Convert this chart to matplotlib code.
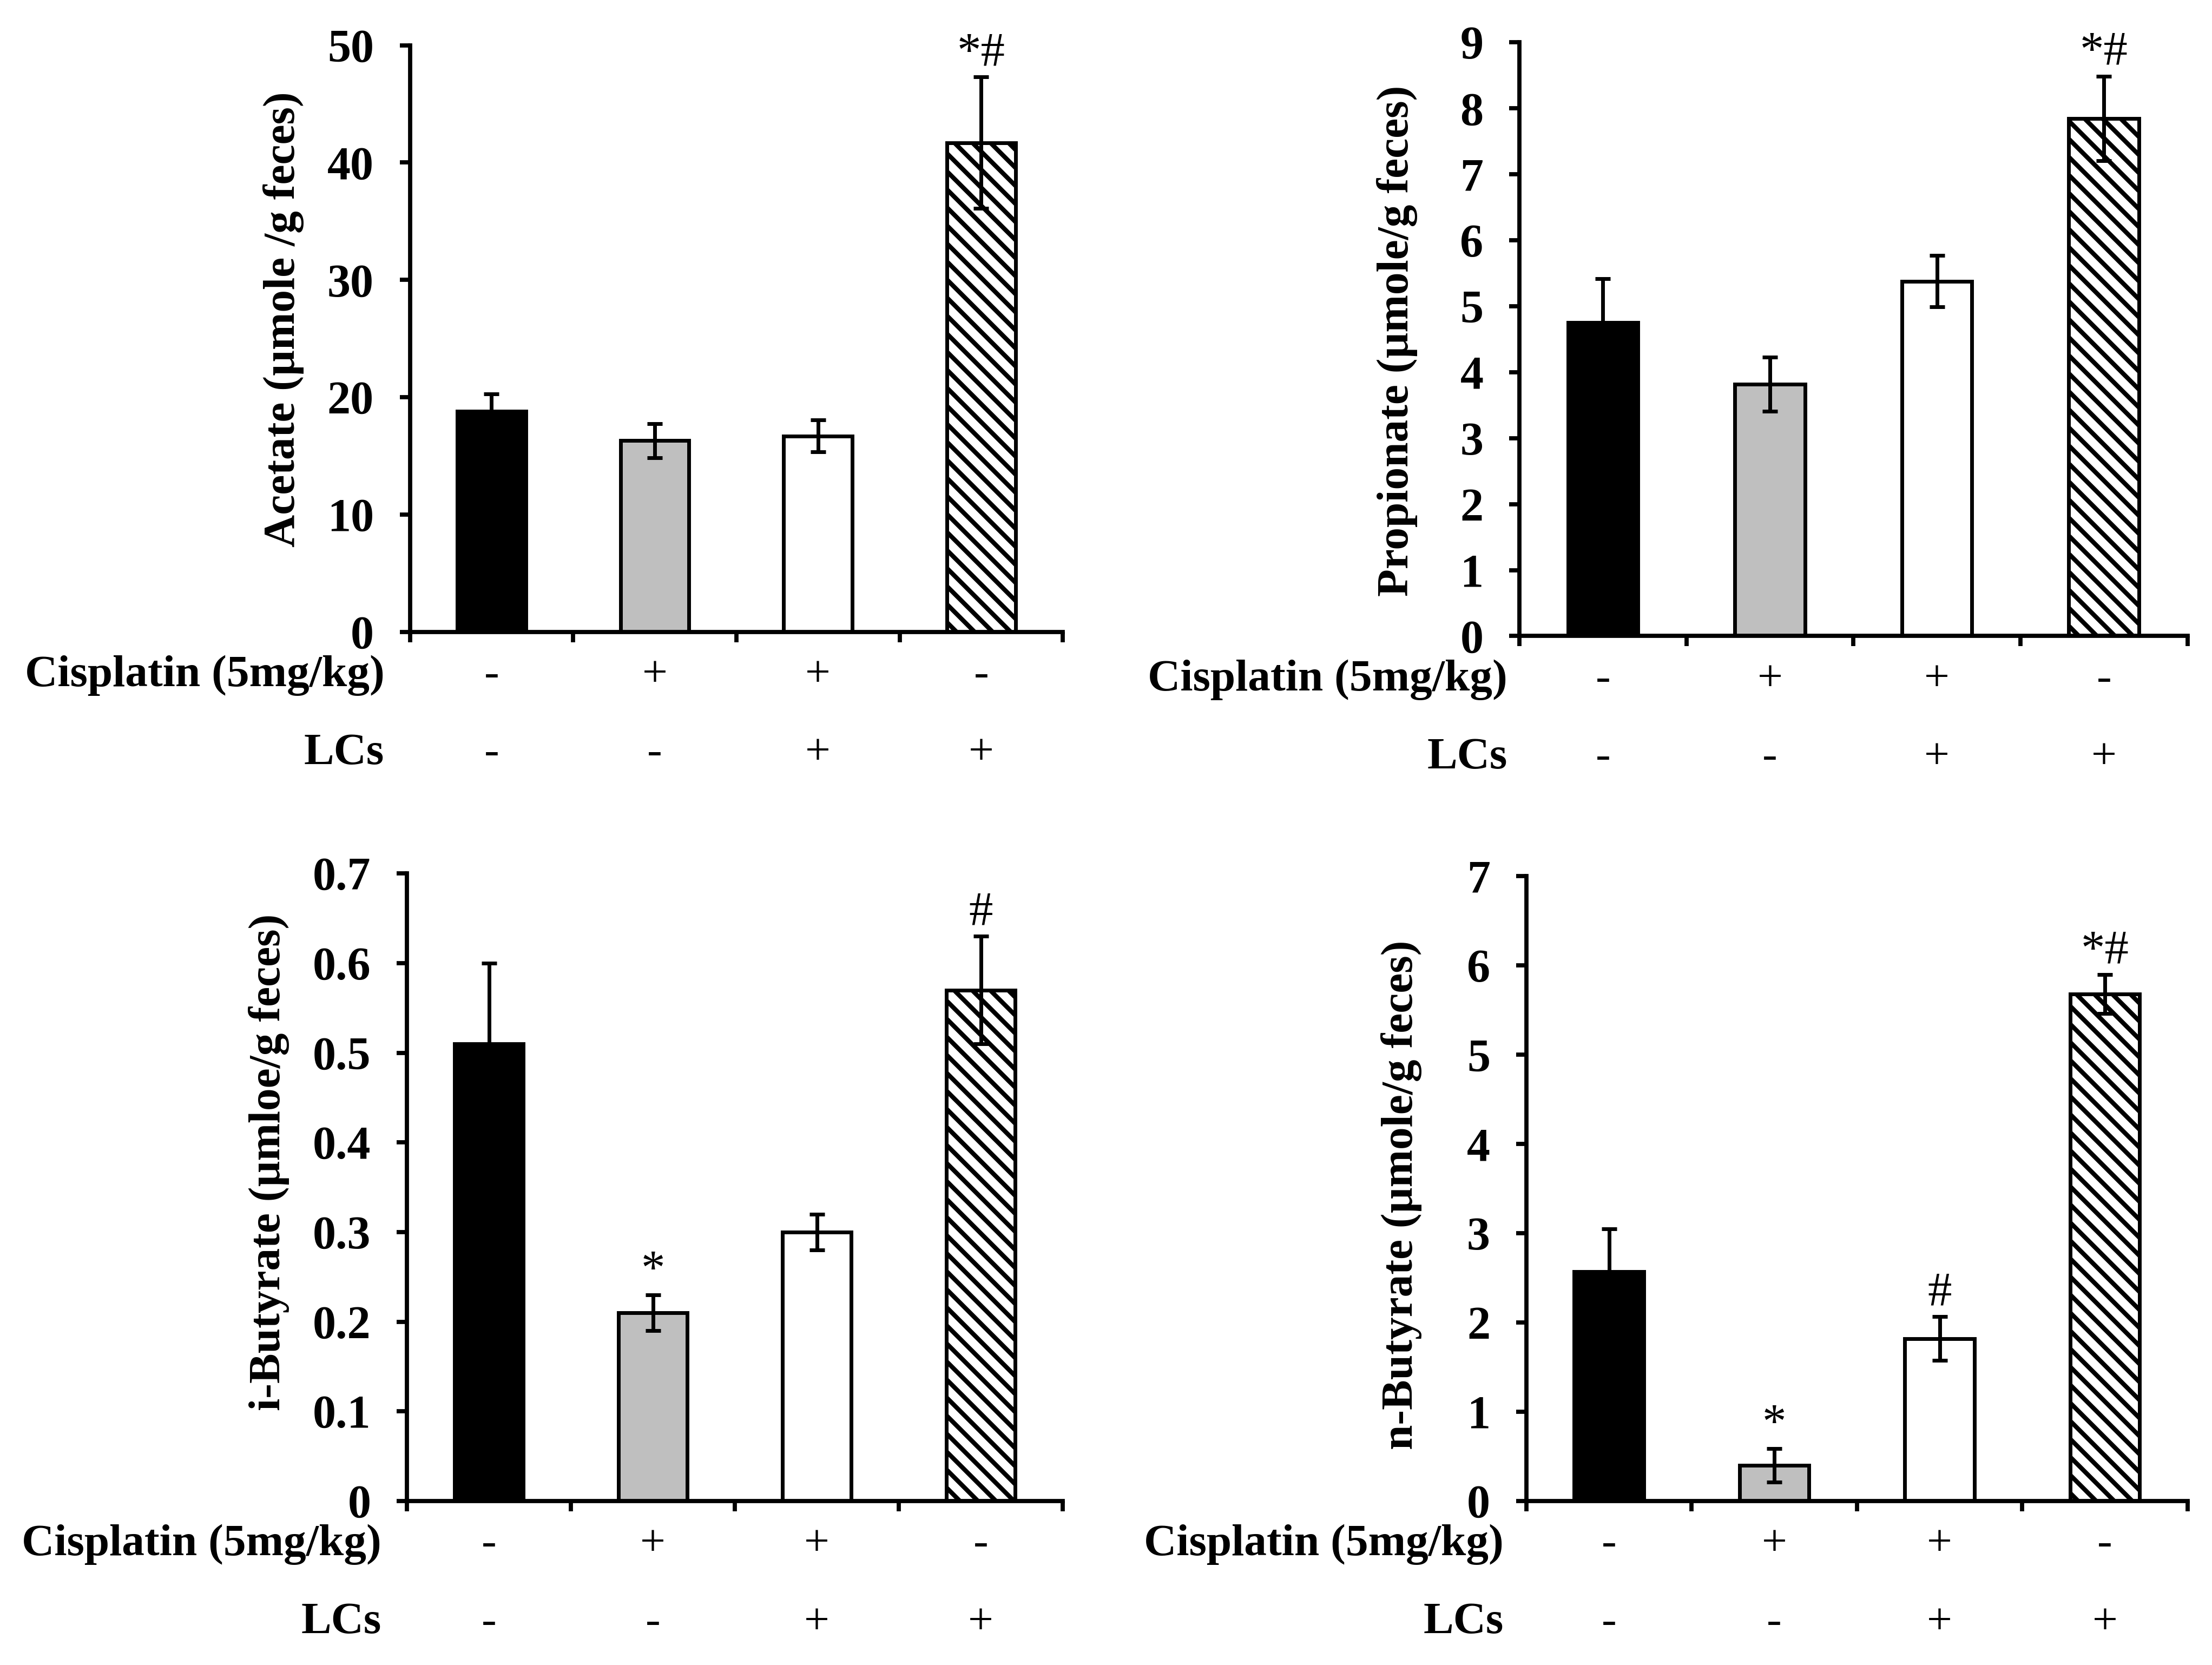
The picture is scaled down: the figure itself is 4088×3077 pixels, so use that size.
import matplotlib
matplotlib.use("Agg")
import matplotlib.pyplot as plt
from matplotlib.ticker import FuncFormatter

plt.rcParams["font.family"] = ["Liberation Serif", "DejaVu Serif"]
plt.rcParams["hatch.linewidth"] = 3.0

# groups: Control, Cisplatin, Cisplatin + LCs, LCs
cisplatin_row = ["-", "+", "+", "-"]
lcs_row = ["-", "-", "+", "+"]

acetate_mean = [18.8, 16.3, 16.7, 41.7]
acetate_err = [1.5, 1.45, 1.35, 5.6]
acetate_sig = ["", "", "", "*#"]

propionate_mean = [4.75, 3.82, 5.38, 7.85]
propionate_err = [0.67, 0.41, 0.39, 0.64]
propionate_sig = ["", "", "", "*#"]

ibutyrate_mean = [0.51, 0.21, 0.30, 0.57]
ibutyrate_err = [0.09, 0.02, 0.02, 0.06]
ibutyrate_sig = ["", "*", "", "#"]

nbutyrate_mean = [2.57, 0.40, 1.82, 5.68]
nbutyrate_err = [0.48, 0.19, 0.245, 0.22]
nbutyrate_sig = ["", "*", "#", "*#"]

bar_colors = ["black", "#bfbfbf", "white", "white"]
bar_hatches = ["", "", "", "\\\\"]

fig = plt.figure(figsize=(20.44, 15.385), dpi=200)

panels = [
    # rect, mean, err, sig, ylabel, ymax, ystep, label x, label y, row label shift
    ([0.1853, 0.6205, 0.2952, 0.3523], acetate_mean, acetate_err, acetate_sig,
     "Acetate (\u00b5mole /g feces)", 50, 10, -0.162, 0.533, -17),
    ([0.6869, 0.6180, 0.3020, 0.3565], propionate_mean, propionate_err, propionate_sig,
     "Propionate (\u00b5mole/g feces)", 9, 1, -0.152, 0.497, -8),
    ([0.1840, 0.0985, 0.2965, 0.3769], ibutyrate_mean, ibutyrate_err, ibutyrate_sig,
     "i-Butyrate (\u00b5mloe/g feces)", 0.7, 0.1, -0.179, 0.54, -17),
    ([0.6900, 0.0985, 0.2990, 0.3752], nbutyrate_mean, nbutyrate_err, nbutyrate_sig,
     "n-Butyrate (\u00b5mole/g feces)", 7, 1, -0.158, 0.49, -15),
]

for rect, mean, err, sig, ylabel, ymax, ystep, label_x, label_y, shift in panels:
    ax = fig.add_axes(rect)
    x = [i + 0.5 for i in range(4)]
    ax.bar(x, mean, width=0.42, color=bar_colors, hatch=bar_hatches,
           edgecolor="black", linewidth=2.5, zorder=2)
    ax.errorbar(x, mean, yerr=err, fmt="none", ecolor="black", elinewidth=2.5,
                capsize=5, capthick=2.5, zorder=3)
    for xi, m, e, s in zip(x, mean, err, sig):
        if s:
            ax.annotate(s, xy=(xi, m + e), xytext=(0, 1), textcoords="offset points",
                        ha="center", va="bottom", fontsize=32)

    ax.set_xlim(0, 4)
    ax.set_ylim(0, ymax)
    n = int(round(ymax / ystep))
    ax.set_yticks([round(i * ystep, 2) for i in range(n + 1)])
    ax.yaxis.set_major_formatter(FuncFormatter(lambda v, p: "{:g}".format(v)))
    ax.set_xticks(range(5))
    ax.set_xticklabels([])
    ax.spines["top"].set_visible(False)
    ax.spines["right"].set_visible(False)
    ax.spines["left"].set_linewidth(2.8)
    ax.spines["bottom"].set_linewidth(2.8)
    ax.tick_params(axis="both", direction="out", length=7, width=2.8)
    ax.tick_params(axis="y", labelsize=31, pad=17)
    for t in ax.get_yticklabels():
        t.set_fontweight("bold")
    ax.set_ylabel(ylabel, fontsize=30, fontweight="bold")
    ax.yaxis.set_label_coords(label_x, label_y)

    # treatment table under the axis
    for row_text, row_vals, dy in [("Cisplatin (5mg/kg)", cisplatin_row, -29),
                                   ("LCs", lcs_row, -81)]:
        ax.annotate(row_text, xy=(0, 0), xycoords="axes fraction",
                    xytext=(shift, dy), textcoords="offset points",
                    ha="right", va="center", fontsize=30, fontweight="bold")
        for xi, v in zip(x, row_vals):
            ax.annotate(v, xy=(xi, 0), xycoords=("data", "axes fraction"),
                        xytext=(0, dy), textcoords="offset points",
                        ha="center", va="center", fontsize=30)

fig.savefig("out.png", dpi=200)
